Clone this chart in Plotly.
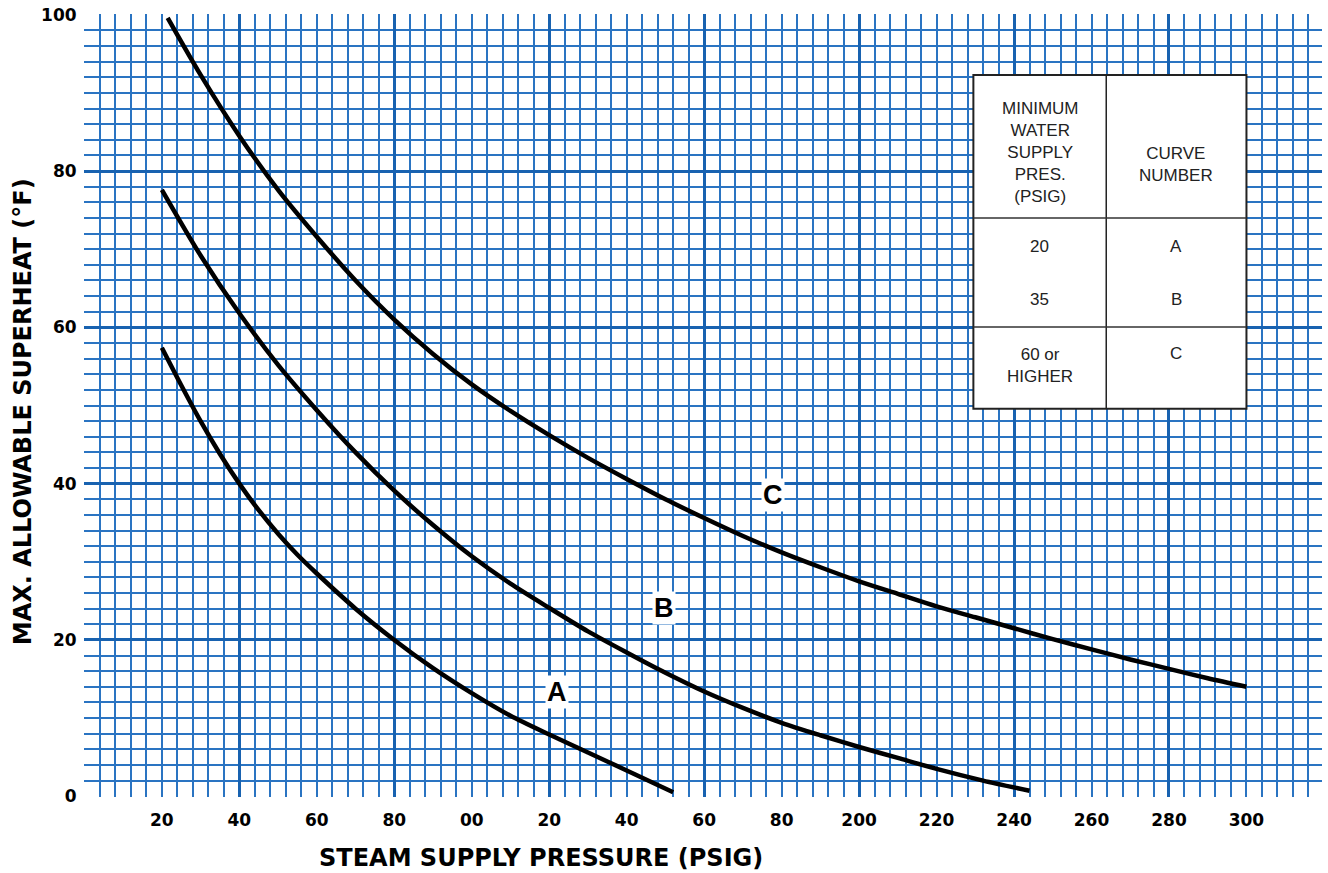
import plotly.graph_objects as go

# ---- data ----
curve_a_x = [20, 25, 30, 35, 40, 45, 50, 55, 60, 70, 80, 90, 100, 110, 120, 130, 140, 152]
curve_a_y = [57.4, 52.6, 48.0, 43.8, 40.0, 36.6, 33.6, 30.9, 28.5, 24.0, 20.0, 16.4, 13.2, 10.3, 7.9, 5.6, 3.3, 0.5]

curve_b_x = [20, 30, 40, 50, 60, 70, 80, 90, 100, 110, 120, 130, 140, 150, 160, 170, 180, 190,
             200, 210, 220, 232, 244]
curve_b_y = [77.6, 69.2, 61.8, 55.2, 49.4, 44.0, 39.1, 34.7, 30.7, 27.2, 24.1, 21.1, 18.4, 15.8,
             13.4, 11.3, 9.4, 7.8, 6.3, 4.9, 3.5, 2.0, 0.7]

curve_c_x = [21.5, 30, 40, 50, 60, 70, 80, 90, 100, 110, 120, 130, 140, 150, 160, 170, 180, 190,
             200, 210, 220, 230, 240, 250, 260, 270, 280, 290, 300]
curve_c_y = [99.6, 92.3, 84.5, 77.6, 71.6, 66.0, 61.0, 56.6, 52.7, 49.3, 46.2, 43.3, 40.6, 38.0,
             35.6, 33.3, 31.2, 29.3, 27.5, 25.9, 24.3, 22.9, 21.5, 20.1, 18.8, 17.5, 16.3, 15.1, 14.0]

x_tick_vals = [20, 40, 60, 80, 100, 120, 140, 160, 180, 200, 220, 240, 260, 280, 300]
x_tick_text = ["20", "40", "60", "80", "00", "20", "40", "60", "80", "200", "220", "240", "260", "280", "300"]
y_tick_vals = [0, 20, 40, 60, 80, 100]

curve_names = ["A", "B", "C"]
curve_label_x = [121.9, 149.7, 177.7]
curve_label_y = [13.3, 24.1, 38.6]

table_head_1 = "MINIMUM<br>WATER<br>SUPPLY<br>PRES.<br>(PSIG)"
table_head_2 = "CURVE<br>NUMBER"
table_head_y = [82.4, 80.9]
table_water = ["20", "35", "60 or<br>HIGHER"]
table_water_y = [70.4, 63.6, 55.1]
table_curve = ["A", "B", "C"]
table_curve_y = [70.4, 63.6, 56.7]

# ---- styling ----
W, H = 1328, 873
ML, MT = 83.5, 14
MB = H - 797
X0, X1 = -0.1, 319.5
PX_PER_X = 3.875
plot_w = (X1 - X0) * PX_PER_X
MR = W - ML - plot_w

MINOR_C = "#2a74c2"
MAJOR_C = "#1862b0"
TICK_FONT = "DejaVu Sans"
TITLE_FONT = "DejaVu Sans"
LABEL_FONT = "Liberation Sans"
TABLE_FONT = "Liberation Sans"

fig = go.Figure()
for xs, ys in [(curve_a_x, curve_a_y), (curve_b_x, curve_b_y), (curve_c_x, curve_c_y)]:
    fig.add_trace(go.Scatter(x=xs, y=ys, mode="lines",
                             line=dict(color="black", width=4.5, shape="spline", smoothing=0.8),
                             showlegend=False, hoverinfo="skip"))

# invisible trace on overlay x-axis carrying the major vertical grid
fig.add_trace(go.Scatter(x=[None], y=[None], xaxis="x2", showlegend=False, hoverinfo="skip"))

fig.update_layout(
    width=W, height=H,
    margin=dict(l=ML, r=MR, t=MT, b=MB, autoexpand=False),
    paper_bgcolor="white", plot_bgcolor="white",
    xaxis=dict(range=[X0, X1], tickmode="array", tickvals=x_tick_vals, ticktext=x_tick_text,
               showgrid=False, zeroline=False, showline=False, automargin=False,
               tickfont=dict(family=TICK_FONT, size=17, color="black", weight="bold"),
               ticks="outside", ticklen=8, tickcolor="rgba(0,0,0,0)",
               ticklabeloverflow="allow",
               minor=dict(dtick=4, tick0=0, showgrid=True, gridcolor=MINOR_C, gridwidth=1.5,
                          ticks="")),
    xaxis2=dict(range=[X0, X1], overlaying="x", dtick=40, tick0=0, showgrid=True,
                gridcolor=MAJOR_C, gridwidth=2.6, showticklabels=False, zeroline=False,
                automargin=False, layer="below traces"),
    yaxis=dict(range=[-0.1, 100.1], tickmode="array", tickvals=y_tick_vals,
               showgrid=True, gridcolor=MAJOR_C, gridwidth=2.6, zeroline=False, showline=False,
               automargin=False, ticklabeloverflow="allow",
               tickfont=dict(family=TICK_FONT, size=17, color="black", weight="bold"),
               ticks="outside", ticklen=3, tickcolor="rgba(0,0,0,0)",
               minor=dict(dtick=2, tick0=0, showgrid=True, gridcolor=MINOR_C, gridwidth=1.5,
                          ticks="")),
)

# table box (layout decoration)
TX0, TX1, TXM = 229.5, 300.0, 263.8
TY0, TY1, TYH, TYR = 49.6, 92.3, 74.0, 60.05
fig.add_shape(type="rect", x0=TX0, x1=TX1, y0=TY0, y1=TY1, xref="x", yref="y",
              fillcolor="white", line=dict(color="#222", width=2), layer="above")
fig.add_shape(type="line", x0=TXM, x1=TXM, y0=TY0, y1=TY1, xref="x", yref="y",
              line=dict(color="#222", width=1.5), layer="above")
for yy in [TYH, TYR]:
    fig.add_shape(type="line", x0=TX0, x1=TX1, y0=yy, y1=yy, xref="x", yref="y",
                  line=dict(color="#333", width=1.5), layer="above")

tfont = dict(family=TABLE_FONT, size=17, color="#222")
col1 = (TX0 + TXM) / 2
col2 = (TXM + TX1) / 2
fig.add_annotation(x=col1, y=table_head_y[0], text=table_head_1,
                   showarrow=False, font=tfont, xref="x", yref="y")
fig.add_annotation(x=col2, y=table_head_y[1], text=table_head_2,
                   showarrow=False, font=tfont, xref="x", yref="y")
for txt, yy in zip(table_water, table_water_y):
    fig.add_annotation(x=col1, y=yy, text=txt, showarrow=False, font=tfont, xref="x", yref="y")
for txt, yy in zip(table_curve, table_curve_y):
    fig.add_annotation(x=col2, y=yy, text=txt, showarrow=False, font=tfont, xref="x", yref="y")

# curve labels
for nm, lx, ly in zip(curve_names, curve_label_x, curve_label_y):
    fig.add_annotation(x=lx, y=ly, text=nm, showarrow=False, xref="x", yref="y",
                       font=dict(family=LABEL_FONT, size=27, color="black", weight="bold"),
                       bgcolor="white", borderpad=1)

# axis titles
fig.add_annotation(x=118, y=0, xref="x", yref="paper", yshift=-61, yanchor="middle",
                   text="STEAM SUPPLY PRESSURE (PSIG)", showarrow=False,
                   font=dict(family=TITLE_FONT, size=24, color="black", weight="bold"))
fig.add_annotation(x=0, y=49.2, xref="paper", yref="y", xshift=-61.5, xanchor="center",
                   textangle=-90, text="MAX. ALLOWABLE SUPERHEAT (°F)", showarrow=False,
                   font=dict(family=TITLE_FONT, size=24, color="black", weight="bold"))

# remove the page's default 8px body margin so the figure fills the window exactly
fig.write_html("out.html", config={"displayModeBar": False},
               post_script="document.body.style.margin='0';document.body.style.overflow='hidden';")
